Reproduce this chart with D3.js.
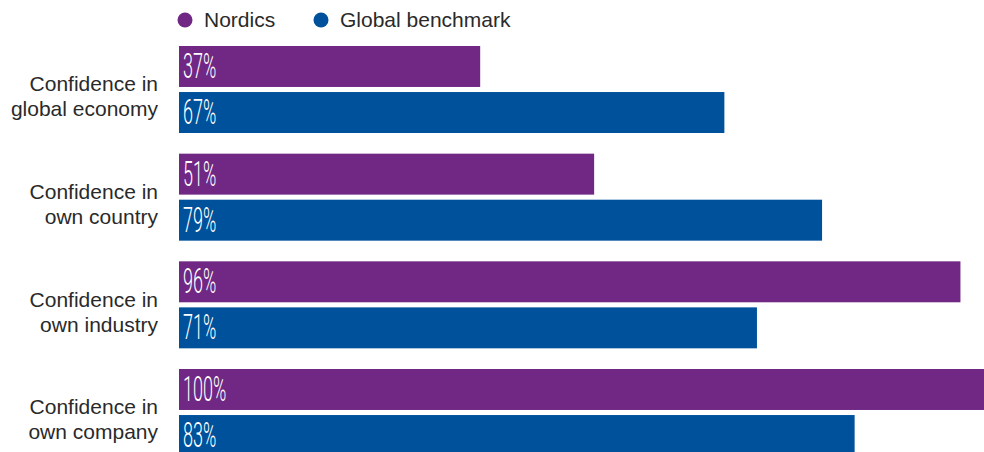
<!DOCTYPE html>
<html>
<head>
<meta charset="utf-8">
<script src="https://cdn.jsdelivr.net/npm/d3@7/dist/d3.min.js"></script>
<style>
  html, body { margin: 0; padding: 0; background: #fff; }
  svg { display: block; }
</style>
</head>
<body>
<svg id="chart" width="984" height="452"></svg>
<script>
// Confidence survey: Nordics vs global benchmark
const categories = [
  ["Confidence in", "global economy"],
  ["Confidence in", "own country"],
  ["Confidence in", "own industry"],
  ["Confidence in", "own company"]
];
const seriesNames = ["Nordics", "Global benchmark"];
const nordics = [37, 51, 96, 100];
const globalBenchmark = [67, 79, 71, 83];
const seriesColors = ["#702884", "#00519b"];

const svg = d3.select("#chart");
const catKeys = categories.map(c => c.join(" "));
const values = [nordics, globalBenchmark];

const x = d3.scaleLinear().domain([0, 100]).range([179, 993]);
const y0 = d3.scaleBand().domain(catKeys).range([46, 456]).paddingInner(0.192).paddingOuter(0);
const y1 = d3.scaleBand().domain(seriesNames).range([0, y0.bandwidth()]).paddingInner(0.11).paddingOuter(0);

const labelFont = "'Liberation Sans', Arial, sans-serif";

// Legend
const legend = svg.append("g").attr("class", "legend");
const legendX = [185, 321];
seriesNames.forEach((name, i) => {
  const g = legend.append("g").attr("transform", `translate(${legendX[i]},20)`);
  g.append("circle").attr("r", 7.5).attr("fill", seriesColors[i]);
  g.append("text")
    .attr("x", 19).attr("y", 7)
    .attr("font-family", labelFont)
    .attr("font-size", 21)
    .attr("fill", "#2a2a2a")
    .text(name);
});

// Category labels
const groups = svg.append("g").selectAll("g.group")
  .data(categories)
  .join("g")
  .attr("class", "group")
  .attr("transform", (d, i) => `translate(0,${y0(catKeys[i])})`);

groups.append("text")
  .attr("text-anchor", "end")
  .attr("font-family", labelFont)
  .attr("font-size", 21)
  .attr("fill", "#2a2a2a")
  .selectAll("tspan")
  .data(d => d)
  .join("tspan")
  .attr("x", 158)
  .attr("y", (d, j) => y0.bandwidth() / 2 + 2 + j * 25)
  .text(d => d);

// Bars and value labels
seriesNames.forEach((name, s) => {
  groups.append("rect")
    .attr("x", x(0))
    .attr("y", y1(name))
    .attr("height", y1.bandwidth())
    .attr("width", (d, i) => x(values[s][i]) - x(0))
    .attr("fill", seriesColors[s]);

  groups.append("text")
    .attr("transform", `translate(${x(0) + 4},${y1(name) + y1.bandwidth() - 9}) scale(0.5,1)`)
    .attr("font-family", "Roboto, sans-serif")
    .attr("font-weight", 300)
    .attr("font-size", 36)
    .attr("fill", "#fff")
    .text((d, i) => values[s][i] + "%");
});
</script>
</body>
</html>
